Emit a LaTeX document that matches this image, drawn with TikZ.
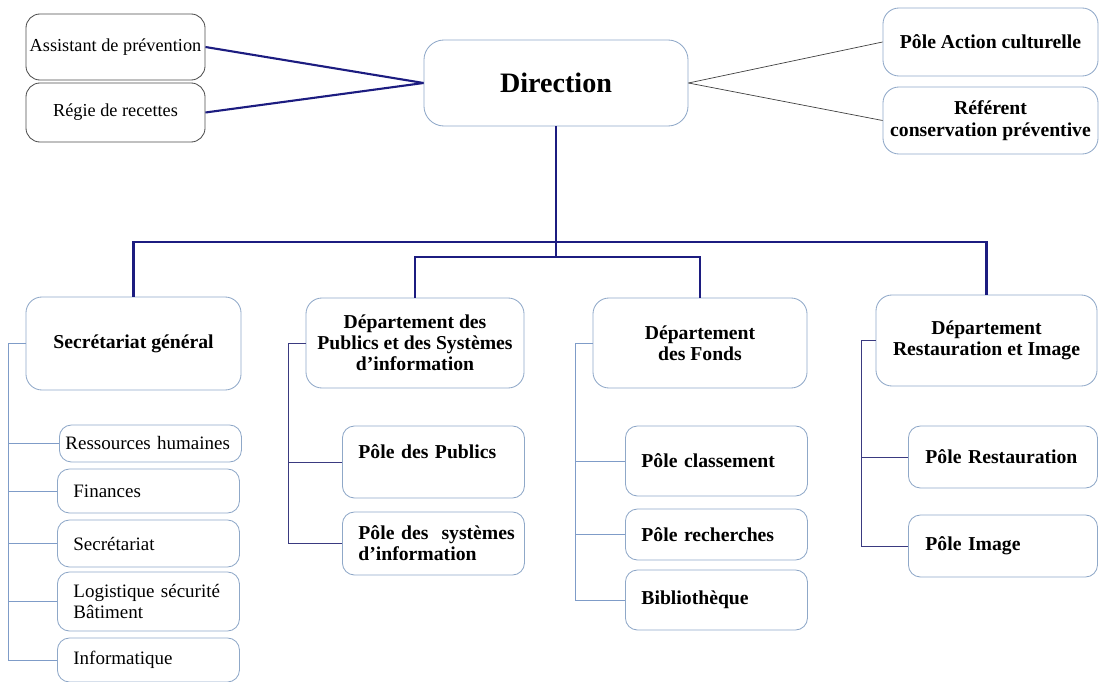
\documentclass[tikz,border=0pt]{standalone}
\usepackage{fontspec}
\setmainfont{Liberation Serif}
\definecolor{boxline}{HTML}{8FA8C8}
\definecolor{navyline}{HTML}{1C1C80}
\definecolor{darkbus}{HTML}{3A3A80}
\definecolor{lightbus}{HTML}{7F9CC8}
\tikzset{
	topbox/.style={draw=black!70,line width=0.6pt,rounded corners=0.35cm,align=center,inner xsep=0.05cm,font=\fontsize{13}{15}\selectfont,minimum width=4.475cm},
	headbox/.style={draw=boxline,line width=0.6pt,rounded corners=0.4cm,align=center,font=\bfseries\fontsize{14}{15}\selectfont},
	subbox/.style={draw=boxline,line width=0.6pt,rounded corners=0.3cm,anchor=west,align=left,inner xsep=0.4cm,text width=3.75cm},
	subreg/.style={subbox,font=\fontsize{13.5}{15}\selectfont},
	subbold/.style={subbox,font=\bfseries\fontsize{14}{15}\selectfont},
	mainlink/.style={navyline,line width=1.5pt},
}
\begin{document}
\begin{tikzpicture}[x=0.025cm,y=-0.025cm]
	\useasboundingbox (0,0) rectangle (1104,682);
	% haut
	\node[topbox,minimum height=1.65cm] (asst) at (115.5,47) {Assistant de prévention};
	\node[topbox,minimum height=1.475cm] (regie) at (115.5,112.5) {Régie de recettes};
	\node[headbox,rounded corners=0.5cm,minimum width=6.6cm,minimum height=2.15cm,font=\bfseries\fontsize{20}{22}\selectfont] (dir) at (556,83) {Direction};
	\node[headbox,minimum width=5.375cm,minimum height=1.7cm] (action) at (990.5,42) {Pôle Action culturelle};
	\node[headbox,minimum width=5.375cm,minimum height=1.675cm,font=\bfseries\fontsize{14}{16}\selectfont] (referent) at (990.5,120.5) {Référent\\conservation préventive};
	\draw[mainlink] (asst.east) -- (dir.west);
	\draw[mainlink] (regie.east) -- (dir.west);
	\draw[black!75,line width=0.5pt] (dir.east) -- (action.west);
	\draw[black!75,line width=0.5pt] (dir.east) -- (referent.west);
	% departements
	\node[headbox,minimum width=5.375cm,minimum height=2.325cm] (secgen) at (133.5,343.5) {Secrétariat général};
	\node[headbox,minimum width=5.45cm,minimum height=2.25cm] (deppub) at (415,343) {Département des\\Publics et des Systèmes\\d’information};
	\node[headbox,minimum width=5.35cm,minimum height=2.25cm] (depfonds) at (700,343) {Département\\des Fonds};
	\node[headbox,minimum width=5.525cm,minimum height=2.275cm] (deprest) at (986.5,340.5) {Département\\Restauration et Image};
	\draw[mainlink] (dir.south) -- ++(0,116) coordinate (bus);
	\draw[mainlink] (secgen.north) |- (bus) -| (deprest.north);
	\draw[mainlink] (bus) -- ++(0,15) coordinate (bus2);
	\draw[mainlink] (deppub.north) |- (bus2) -| (depfonds.north);
	% secretariat general
	\node[subreg,inner xsep=0.15cm,text width=4.25cm,minimum height=0.925cm] (rh) at (59,443.5) {Ressources humaines};
	\node[subreg,minimum height=1.1cm] (fin) at (57,491) {Finances};
	\node[subreg,minimum height=1.175cm] (secr) at (57,543.5) {Secrétariat};
	\node[subreg,minimum height=1.475cm] (logi) at (57,601.5) {Logistique sécurité\\Bâtiment};
	\node[subreg,minimum height=1.1cm] (info) at (57,660) {Informatique};
	\coordinate (sgtop) at (8,343.5);
	\draw[lightbus,line width=0.6pt] (secgen.west) -- (sgtop) |- (info.west);
	\foreach \n in {rh,fin,secr,logi}
	\draw[lightbus,line width=0.6pt] (\n.west) -- (\n.west -| sgtop);
	% publics
	\node[subbold,minimum height=1.8cm] (pp) at (342,462) {Pôle des Publics\\\mbox{}};
	\node[subbold,minimum height=1.575cm] (psi) at (342,543.5) {\mbox{Pôle des\ \ systèmes}\\d’information};
	\coordinate (pubtop) at (288,343);
	\draw[darkbus,line width=0.6pt] (deppub.west) -- (pubtop) |- (psi.west);
	\draw[darkbus,line width=0.6pt] (pp.west) -- (pp.west -| pubtop);
	% fonds
	\node[subbold,minimum height=1.75cm] (pc) at (625,461) {Pôle classement};
	\node[subbold,minimum height=1.275cm] (pr) at (625,534.5) {Pôle recherches};
	\node[subbold,minimum height=1.5cm] (bib) at (625,600) {Bibliothèque};
	\coordinate (fdtop) at (575,343);
	\draw[lightbus,line width=0.6pt] (depfonds.west) -- (fdtop) |- (bib.west);
	\foreach \n in {pc,pr}
	\draw[lightbus,line width=0.6pt] (\n.west) -- (\n.west -| fdtop);
	% restauration
	\node[subbold,text width=3.875cm,inner xsep=0.425cm,minimum height=1.55cm] (prest) at (908,457) {Pôle Restauration};
	\node[subbold,text width=3.875cm,inner xsep=0.425cm,minimum height=1.55cm] (pim) at (908,546) {Pôle Image};
	\coordinate (rstop) at (861,343);
	\draw[darkbus,line width=0.6pt] (deprest.west) -- (deprest.west -| rstop) |- (pim.west);
	\draw[darkbus,line width=0.6pt] (prest.west) -- (prest.west -| rstop);
\end{tikzpicture}
\end{document}
